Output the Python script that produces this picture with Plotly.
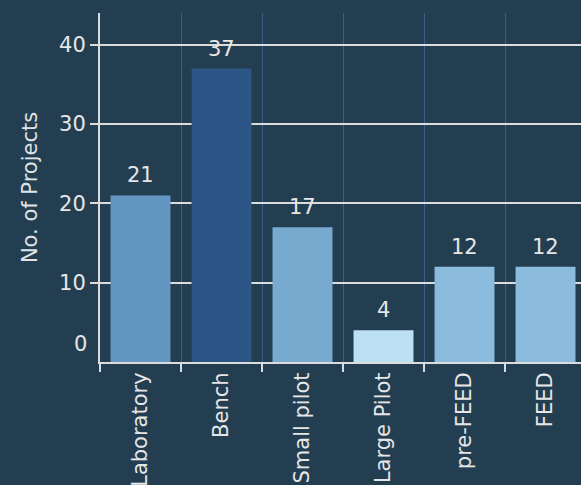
import plotly.graph_objects as go

categories = ["Laboratory", "Bench", "Small pilot", "Large Pilot", "pre-FEED", "FEED"]
projects = [21, 37, 17, 4, 12, 12]
bar_colors = ["#6396c0", "#2b5584", "#78aad0", "#bde1f4", "#8bbbdd", "#8bbbdd"]
y_ticks = [10, 20, 30, 40]
y_title = "No. of Projects"

BG = "#243e51"
TXT = "#e6e6e6"
FONT = "DejaVu Sans"

fig = go.Figure()
fig.add_trace(go.Bar(
    x=categories, y=projects,
    marker=dict(color=bar_colors, line=dict(width=0)),
    hoverinfo="x+y",
))

annotations = []
for c, v in zip(categories, projects):
    annotations.append(dict(
        x=c, y=v, xref="x", yref="y", text=str(v), showarrow=False,
        yanchor="bottom", yshift=6, font=dict(family=FONT, size=21, color=TXT),
    ))
annotations.append(dict(
    x=0, y=0, xref="paper", yref="y", text="0", showarrow=False,
    xanchor="right", yanchor="middle", xshift=-11, yshift=18,
    font=dict(family=FONT, size=21, color=TXT),
))

fig.update_layout(
    width=581, height=485,
    margin=dict(l=100, r=0, t=13, b=123, autoexpand=False),
    paper_bgcolor=BG, plot_bgcolor=BG,
    bargap=0.26,
    showlegend=False,
    font=dict(family=FONT, size=21, color=TXT),
    annotations=annotations,
    xaxis=dict(
        type="category",
        range=[-0.5, 5.438],
        tickson="boundaries",
        showgrid=True, gridcolor="#3a5f86", gridwidth=1,
        showline=True, linecolor="#dcdcdc", linewidth=2,
        ticks="outside", ticklen=8, tickcolor="#dcdcdc", tickwidth=1.5,
        tickangle=-90,
        tickfont=dict(family=FONT, size=21, color=TXT),
        automargin=False,
    ),
    yaxis=dict(
        range=[0, 44],
        tickvals=y_ticks,
        showgrid=True, gridcolor="#dcdcdc", gridwidth=2,
        zeroline=False,
        showline=True, linecolor="#dcdcdc", linewidth=2,
        ticks="outside", ticklen=8, tickcolor="#dcdcdc", tickwidth=2,
        tickfont=dict(family=FONT, size=21, color=TXT),
        title=dict(text=y_title, font=dict(family=FONT, size=21, color="#dfe3e8"), standoff=16),
        automargin=False,
    ),
)

fig.write_html("out.html")
